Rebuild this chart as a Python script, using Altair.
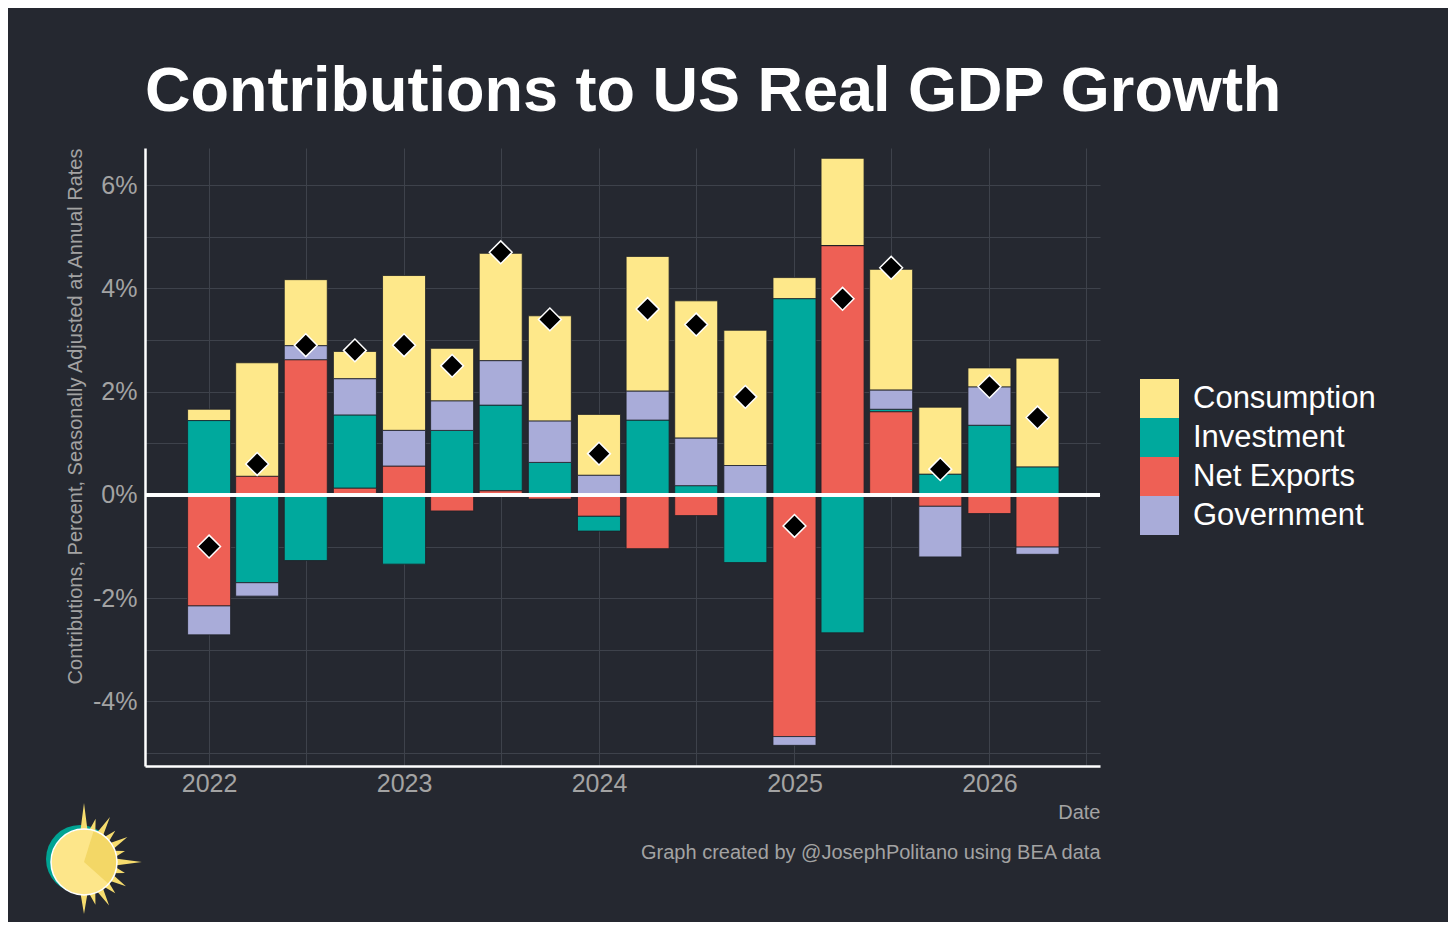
import math
import altair as alt
import pandas as pd

quarters = ["2022-01-01", "2022-04-01", "2022-07-01", "2022-10-01",
            "2023-01-01", "2023-04-01", "2023-07-01", "2023-10-01",
            "2024-01-01", "2024-04-01", "2024-07-01", "2024-10-01",
            "2025-01-01", "2025-04-01", "2025-07-01", "2025-10-01",
            "2026-01-01", "2026-04-01"]

consumption = [0.22, 2.20, 1.28, 0.53, 3.00, 1.02, 2.08, 2.04, 1.18, 2.61, 2.66, 2.62,
               0.41, 1.69, 2.34, 1.30, 0.37, 2.11]
investment = [1.44, -1.70, -1.27, 1.42, -1.34, 1.25, 1.66, 0.63, -0.29, 1.45, 0.18, -1.28,
              3.80, -2.67, 0.05, 0.40, 1.35, 0.54]
net_exports = [-2.15, 0.36, 2.62, 0.13, 0.56, -0.31, 0.08, -0.08, -0.41, -1.04, -0.40, -0.03,
               -4.68, 4.83, 1.61, -0.22, -0.36, -1.01]
government = [-0.56, -0.26, 0.27, 0.70, 0.69, 0.57, 0.86, 0.80, 0.38, 0.56, 0.92, 0.57,
              -0.17, 0.00, 0.37, -0.98, 0.74, -0.14]
total_gdp = [-1.0, 0.6, 2.9, 2.8, 2.9, 2.5, 4.7, 3.4, 0.8, 3.6, 3.3, 1.9,
             -0.6, 3.8, 4.4, 0.5, 2.1, 1.5]

series_names = ["Consumption", "Investment", "Net Exports", "Government"]
series_colors = ["#FEE88A", "#00A99D", "#EE6055", "#A9ACD9"]
stack_order = {"Net Exports": 0, "Investment": 1, "Government": 2, "Consumption": 3}

y_ticks = [-5, -4, -3, -2, -1, 0, 1, 2, 3, 4, 5, 6]
x_ticks = ["2022-01-01", "2022-07-01", "2023-01-01", "2023-07-01", "2024-01-01",
           "2024-07-01", "2025-01-01", "2025-07-01", "2026-01-01", "2026-07-01"]
x_domain = ["2021-09-03", "2026-07-27"]


def ms(s):
    return int(pd.Timestamp(s, tz="UTC").value // 10**6)


rows = []
for name, vals in zip(series_names, [consumption, investment, net_exports, government]):
    for q, v in zip(quarters, vals):
        rows.append({"date": q, "series": name, "value": v, "ord": stack_order[name]})
bars_df = pd.DataFrame(rows)
total_df = pd.DataFrame({"date": quarters, "total": total_gdp})

BG = "#252830"
GRAY = "#A3A3A3"

x_enc = alt.X(
    "date:T",
    scale=alt.Scale(type="utc", domain=[ms(d) for d in x_domain], nice=False, padding=0),
    axis=alt.Axis(
        values=[ms(d) for d in x_ticks],
        labelExpr="utcmonth(datum.value) == 0 ? utcFormat(datum.value, '%Y') : ''",
        title=["Date", "Graph created by @JosephPolitano using BEA data"],
        titleAlign="right", titleAnchor="end", titleBaseline="alphabetic",
        titleX=955, titleY=52, titleLineHeight=40,
        titleFontSize=20, titleFontWeight="normal", titleColor=GRAY,
        labelFontSize=25, labelColor=GRAY, labelPadding=5,
        ticks=False, domainColor="white", domainWidth=2.5,
        grid=True, gridColor="#3E424B", gridWidth=1,
    ),
)

y_enc_axis = alt.Axis(
    values=y_ticks,
    labelExpr="datum.value % 2 == 0 ? datum.value + '%' : ''",
    title="Contributions, Percent, Seasonally Adjusted at Annual Rates",
    titleAngle=-90, titleAlign="right", titleBaseline="middle",
    titleX=-70, titleY=0, titleFontSize=20, titleFontWeight="normal", titleColor=GRAY,
    labelFontSize=25, labelColor=GRAY, labelPadding=8,
    ticks=False, domainColor="white", domainWidth=2.5,
    grid=True, gridColor="#3E424B", gridWidth=1,
)
y_scale = alt.Scale(domain=[-5.25, 6.72], nice=False, zero=False, padding=0)

bars = alt.Chart(bars_df).mark_bar(size=43, stroke="#1E2127", strokeWidth=0.8).encode(
    x=x_enc,
    y=alt.Y("value:Q", stack="zero", scale=y_scale, axis=y_enc_axis),
    color=alt.Color(
        "series:N",
        scale=alt.Scale(domain=series_names, range=series_colors),
        legend=alt.Legend(
            title=None, orient="none", legendX=995, legendY=231,
            symbolType="square", symbolSize=1521, symbolStrokeWidth=0,
            labelFontSize=31, labelColor="white", labelOffset=14, labelLimit=400,
            rowPadding=0, padding=0, labelFont="Liberation Sans",
        ),
    ),
    order=alt.Order("ord:Q", sort="ascending"),
)

zero_line = alt.Chart(total_df).mark_rule(color="white", strokeWidth=2.5).encode(
    y=alt.datum(0)
)

diamonds = alt.Chart(total_df).mark_point(
    shape="diamond", filled=True, fill="black", stroke="white", strokeWidth=1.5,
    size=520, opacity=1,
).encode(
    x=alt.X("date:T"),
    y=alt.Y("total:Q"),
)

# ---- decorative sun logo (bottom-left), positioned in pixels off the plot ----
logo_df = pd.DataFrame({"k": [0]})
SUN_X, SUN_Y = -61, 714
ray_angles = [0, 15, 30, 45, 60, 75, 90, 105, 120, 135, 150, 165, 180]
ray_len = [1.0, 0.76, 0.88, 0.75, 0.85, 0.72, 0.98, 0.72, 0.82, 0.75, 0.85, 0.75, 0.88]
pts = []
for a, r in zip(ray_angles, ray_len):
    for b, rr in ((a - 7.5, 0.5), (a, r)):
        t = math.radians(b)
        pts.append((rr * math.sin(t), -rr * math.cos(t)))
t = math.radians(187.5)
pts.append((0.5 * math.sin(t), -0.5 * math.cos(t)))
ray_path = "M" + " L".join(f"{x:.3f},{y:.3f}" for x, y in pts) + " Z"

teal_disc = alt.Chart(logo_df).mark_point(
    shape="circle", filled=True, fill="#00A393", size=68 ** 2, opacity=1, strokeWidth=0
).encode(x=alt.value(SUN_X - 4), y=alt.value(SUN_Y - 3))
rays = alt.Chart(logo_df).mark_point(
    shape=ray_path, filled=True, fill="#F6DC6E", size=118 ** 2, opacity=1, strokeWidth=0
).encode(x=alt.value(SUN_X), y=alt.value(SUN_Y))
sun_disc = alt.Chart(logo_df).mark_point(
    shape="circle", filled=True, fill="#FDE68A", stroke="white", strokeWidth=1.5,
    size=66 ** 2, opacity=1
).encode(x=alt.value(SUN_X), y=alt.value(SUN_Y))
sun_wedge = alt.Chart(logo_df).mark_arc(
    theta=0.30, theta2=2.30, outerRadius=32, innerRadius=0, fill="#F3D766"
).encode(x=alt.value(SUN_X), y=alt.value(SUN_Y))

chart = alt.layer(
    bars, zero_line, diamonds, teal_disc, rays, sun_disc, sun_wedge
).properties(
    width=955, height=618,
    background=BG,
    padding={"left": 137, "top": 140, "right": 348, "bottom": 156},
    autosize=alt.AutoSizeParams(type="none"),
    title=alt.TitleParams(
        "Contributions to US Real GDP Growth",
        anchor="start", frame="group", fontSize=63, font="Liberation Sans",
        fontWeight="bold", color="white", offset=24,
    ),
).configure(
    font="Liberation Sans",
).configure_view(
    stroke=None, fill=BG,
)

chart.save("out.html", embed_options={"renderer": "svg", "actions": False})
